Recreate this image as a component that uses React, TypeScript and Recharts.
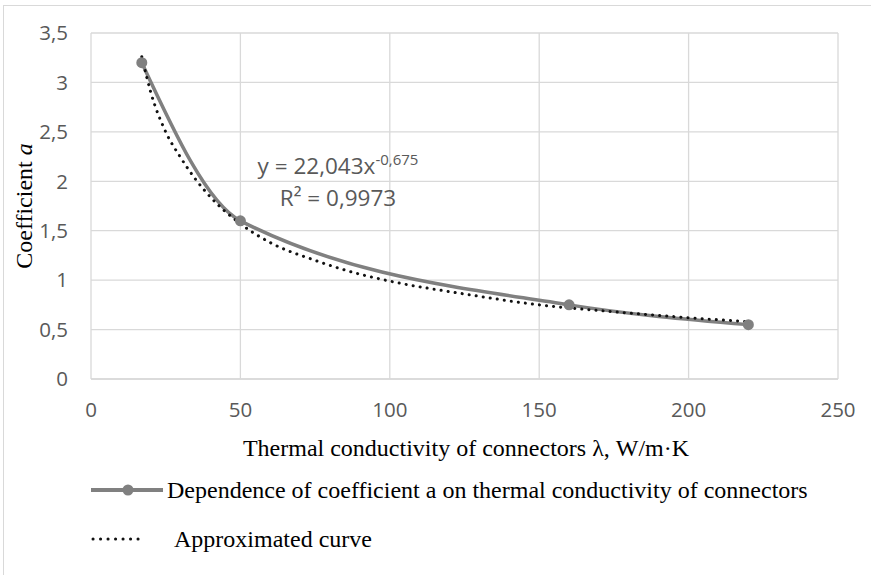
import { CartesianGrid, Line, LineChart, XAxis, YAxis } from "recharts"

// measured points
const lambda = [17, 50, 160, 220]
const coefficient = [3.2, 1.6, 0.75, 0.55]

// power trendline
const trendX = [17, 20, 25, 30, 35, 40, 50, 60, 75, 90, 100, 125, 150, 175, 200, 220]
const trendY = [3.26, 2.9, 2.5, 2.24, 2.02, 1.84, 1.57, 1.38, 1.2, 1.06, 0.99, 0.86, 0.75, 0.68, 0.62, 0.58]

const xTicks = [0, 50, 100, 150, 200, 250]
const yTicks = [0, 0.5, 1, 1.5, 2, 2.5, 3, 3.5]

const measured = lambda.map((x, i) => ({ x, a: coefficient[i] }))
const approx = trendX.map((x, i) => ({ x, fit: trendY[i] }))

const serif = "'Liberation Serif', 'Times New Roman', serif"
const sans = "'Open Sans', sans-serif"
const tickStyle = { fill: "#595959", fontSize: 20.5, fontFamily: sans }

const comma = (v: number) => String(v).replace(".", ",")

export default function App() {
  return (
    <div style={{ position: "absolute", left: 0, top: 0, width: 871, height: 575, background: "#fff", overflow: "hidden" }}>
      <div style={{ position: "absolute", left: 3, top: 5, width: 880, height: 600, border: "1px solid #d9d9d9" }} />
      <LineChart width={871} height={575} margin={{ top: 33, right: 33, bottom: 166, left: 0 }}>
        <CartesianGrid stroke="#d9d9d9" strokeWidth={1.3} />
        <XAxis
          type="number"
          dataKey="x"
          domain={[0, 250]}
          ticks={xTicks}
          tick={tickStyle}
          tickLine={false}
          tickSize={0}
          tickMargin={23}
          stroke="#d9d9d9"
          strokeWidth={1.3}
          allowDuplicatedCategory={false}
        />
        <YAxis
          type="number"
          domain={[0, 3.5]}
          ticks={yTicks}
          tick={tickStyle}
          tickFormatter={comma}
          tickLine={false}
          axisLine={false}
          tickSize={0}
          tickMargin={23}
          width={91}
        />
        <Line
          data={measured}
          dataKey="a"
          type="monotone"
          stroke="#808080"
          strokeWidth={3.5}
          dot={{ r: 5.5, fill: "#808080", stroke: "#808080", strokeWidth: 0 }}
          isAnimationActive={false}
        />
        <Line
          data={approx}
          dataKey="fit"
          type="monotone"
          stroke="#111"
          strokeWidth={3}
          strokeDasharray="0.1 7"
          strokeLinecap="round"
          dot={false}
          isAnimationActive={false}
        />
      </LineChart>

      <div style={{ position: "absolute", left: 338, top: 143, transform: "translateX(-50%)", whiteSpace: "nowrap", color: "#595959", fontFamily: sans, fontSize: 22.5, textAlign: "center", lineHeight: "32px" }}>
        <div>
          y = 22,043x<sup style={{ fontSize: 15, verticalAlign: "9px" }}>-0,675</sup>
        </div>
        <div>R² = 0,9973</div>
      </div>

      <div style={{ position: "absolute", left: 24, top: 206, transform: "translate(-50%, -50%) rotate(-90deg)", whiteSpace: "nowrap", fontFamily: serif, fontSize: 24, color: "#000" }}>
        Coefficient <i>a</i>
      </div>

      <div style={{ position: "absolute", left: 466, top: 448, transform: "translate(-50%, -50%)", whiteSpace: "nowrap", fontFamily: serif, fontSize: 24, color: "#000" }}>
        Thermal conductivity of connectors λ, W/m·K
      </div>

      <div style={{ position: "absolute", left: 91, top: 475, display: "flex", alignItems: "center", fontFamily: serif, fontSize: 24, color: "#000", whiteSpace: "nowrap" }}>
        <svg width={74} height={30}>
          <line x1={0} y1={15} x2={72} y2={15} stroke="#808080" strokeWidth={4} />
          <circle cx={37} cy={15} r={5.5} fill="#808080" />
        </svg>
        <span style={{ marginLeft: 2 }}>Dependence of coefficient a on thermal conductivity of connectors</span>
      </div>

      <div style={{ position: "absolute", left: 91, top: 524, display: "flex", alignItems: "center", fontFamily: serif, fontSize: 24, color: "#000", whiteSpace: "nowrap" }}>
        <svg width={74} height={30}>
          <line x1={2} y1={15} x2={54} y2={15} stroke="#111" strokeWidth={3} strokeDasharray="0.1 7.4" strokeLinecap="round" />
        </svg>
        <span style={{ marginLeft: 9 }}>Approximated curve</span>
      </div>
    </div>
  )
}
